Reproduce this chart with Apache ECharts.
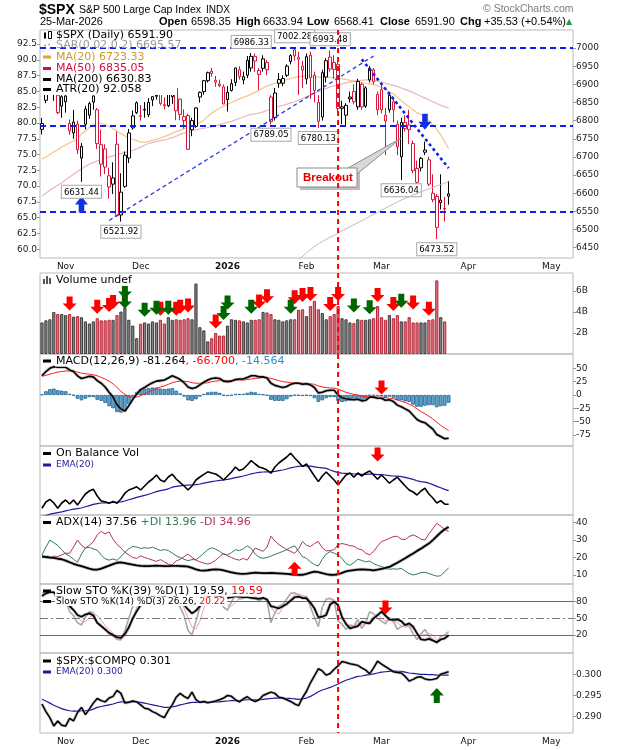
<!DOCTYPE html>
<html><head><meta charset="utf-8">
<script src="https://cdn.jsdelivr.net/npm/echarts@6/dist/echarts.min.js"></script>
<style>html,body{margin:0;padding:0;background:#fff}#c{width:620px;height:750px}</style>
</head><body><div id="c"></div>
<script>
// ---------------- DATA ----------------
const tradingDays = [
 ['2025-10',[24,27,28,29,30,31]],
 ['2025-11',[3,4,5,6,7,10,11,12,13,14,17,18,19,20,21,24,25,26,28]],
 ['2025-12',[1,2,3,4,5,8,9,10,11,12,15,16,17,18,19,22,23,24,26,29,30,31]],
 ['2026-01',[2,5,6,7,8,9,12,13,14,15,16,20,21,22,23,26,27,28,29,30]],
 ['2026-02',[2,3,4,5,6,9,10,11,12,13,17,18,19,20,23,24,25,26,27]],
 ['2026-03',[2,3,4,5,6,9,10,11,12,13,16,17,18,19,20,23,24,25,26,27,30,31]],
 ['2026-04',[1,2,6,7,8,9,10,13,14,15,16,17,20,21,22,23,24,27,28,29,30]],
 ['2026-05',[1,4,5,6,7,8]]
];
const monthTickLabels = {'2025-11':'Nov','2025-12':'Dec','2026-01':'2026','2026-02':'Feb','2026-03':'Mar','2026-04':'Apr','2026-05':'May'};

const openP = [6776,6856,6883,6905,6870,6866,6868,6792,6766,6790,
 6697,6790,6815,6868,6830,6680,6722,6648,6625,6735,
 6540,6619,6697,6780,6822,6812,6831,6816,6866,6867,
 6876,6844,6841,6866,6889,6859,6811,6814,6800,6784,
 6865,6880,6910,6936,6911,6901,6893,6878,6883,6905,
 6940,6912,6925,6945,6977,6938,6970,6960,6865,6808,
 6903,6903,6925,6963,6995,6975,6950,6915,6980,6925,
 6850,6810,6920,6975,6960,6955,6838,6815,6865,6880,
 6838,6900,6840,6912,6940,6830,6885,6799,6830,6852,
 6790,6700,6795,6788,6737,6668,6670,6719,6692,6582,
 6591,6574,6558,6598.35];
const closeP = [6792,6875,6891,6891,6822,6840,6852,6772,6796,6720,
 6729,6832,6847,6851,6737,6734,6672,6617,6642,6539,
 6603,6705,6766,6813,6849,6813,6829,6850,6857,6870,
 6847,6841,6887,6901,6827,6817,6800,6721,6775,6835,
 6878,6910,6932,6930,6906,6896,6846,6858,6902,6945,
 6921,6921,6966,6977,6964,6927,6944,6940,6797,6876,
 6913,6916,6950,6979,6978,6969,6939,6976,6918,6883,
 6798,6932,6965,6942,6941,6833,6834,6842,6860,6852,
 6908,6838,6890,6944,6907,6872,6830,6815,6870,6830,
 6728,6795,6778,6775,6662,6630,6696,6713,6625,6600,
 6506,6581,6556.37,6591.90];
const lowP = [6762,6848,6875,6855,6818,6808,6822,6761,6750,6708,
 6631.44,6776,6805,6830,6722,6646,6653,6585,6598,6535,
 6521.92,6615,6683,6775,6818,6800,6808,6810,6840,6858,
 6842,6831,6837,6846,6801,6801,6778,6720,6757,6780,
 6850,6871,6905,6921,6893,6892,6845,6825,6880,6895,
 6913,6900,6917,6935,6934,6885,6935,6925,6789.05,6800,
 6890,6895,6920,6955,6965,6871,6890,6900,6860,6850,
 6780.13,6800,6905,6935,6915,6820,6790,6785,6850,6845,
 6830,6830,6835,6905,6900,6815,6820,6705,6822,6795,
 6705,6636.04,6770,6735,6655,6625,6660,6705,6620,6575,
 6473.52,6555,6522,6568.41];
const highP = [6807,6880,6902,6920,6880,6870,6870,6803,6829,6800,
 6738,6841,6852,6869,6835,6775,6735,6670,6685,6770,
 6655,6715,6777,6828,6853,6843,6851,6862,6867,6895,
 6879,6864,6899,6904,6895,6861,6831,6819,6808,6837,
 6880,6912,6935,6945,6923,6913,6900,6895,6914,6946,
 6950,6935,6978,6986.33,6985,6945,6980,6967,6870,6890,
 6931,6925,6955,6983,7002.28,6990,6965,6985,6990,6935,
 6870,6940,6972,6993.48,6980,6965,6855,6848,6880,6900,
 6915,6905,6895,6950,6945,6880,6900,6835,6878,6865,
 6800,6808,6815,6830,6745,6690,6700,6742,6700,6652,
 6598,6652,6590,6633.94];
const ma20 = [6694,6700,6707,6714,6720,6727,6733,6739,6744,6752,
 6762,6772,6781,6788,6793,6792,6789,6784,6778,6771,
 6764,6758,6753,6748,6745,6741,6741,6743,6746,6749,
 6752,6756,6760,6765,6770,6773,6778,6782,6786,6790,
 6794,6802,6811,6821,6828,6834,6840,6845,6850,6855,
 6860,6864,6868,6873,6878,6884,6890,6895,6899,6903,
 6906,6909,6913,6916,6919,6921,6922,6923,6922,6921,
 6920,6920,6920,6919,6918,6917,6915,6913,6911,6909,
 6907,6905,6903,6901,6899,6896,6892,6886,6880,6874,
 6864,6855,6846,6838,6830,6822,6816,6810,6800,6788,
 6776,6760,6742,6723.33];
const ma50 = [6592,6600,6608,6615,6622,6629,6637,6645,6652,6660,
 6667,6674,6680,6685,6689,6693,6697,6700,6703,6706,
 6709,6712,6715,6718,6722,6727,6732,6737,6740,6743,
 6745,6747,6750,6753,6757,6762,6766,6769,6772,6775,
 6777,6779,6781,6783,6786,6789,6792,6795,6798,6802,
 6806,6810,6814,6817,6819,6821,6824,6828,6832,6836,
 6839,6842,6845,6849,6852,6856,6861,6866,6871,6876,
 6880,6884,6888,6893,6896,6898,6901,6904,6906,6908,
 6910,6911,6912,6912,6911,6909,6906,6903,6900,6897,
 6894,6890,6886,6882,6877,6872,6867,6862,6857,6852,
 6847,6842,6838,6835.05];
const ma200Start = 62;
const ma200Vals = [6395,6402,6409,6418,6426,6436,6445,6453,6461,6467,6473,6479,6484,6490,6496,6502,6508,6513,6519,6524,6530,6536,6542,6548,6554,6559,6565,6570,6576,6581,6586,6590,6595,6599,6604,6608,6612,6616,6620,6624,6628,6630.83];
const hLevels = [7000, 6786, 6550];
const upTrend = [[17,6525],[84,6978]];
const downTrend = [[81,6969],[103,6669]];
const highLabels = [[53,6986.33],[64,7002.28],[73,6993.48]];
const lowLabels = [[10,6631.44],[20,6521.92],[58,6789.05],[70,6780.13],[91,6636.04],[100,6473.52]];
const blueUp = [[10,6569]];
const blueDown = [[97,6797]];
const breakIdx = 75;
const breakoutTarget = [91, 6752];

const volume = [3.0,3.2,3.3,4.0,3.8,3.8,3.7,3.8,3.55,3.6,
 3.5,3.1,2.9,3.1,3.4,3.2,3.2,3.25,3.25,3.7,
 4.03,4.44,3.25,2.7,1.5,2.87,3.0,2.9,3.1,3.0,
 3.25,2.9,3.5,3.25,3.3,3.25,3.3,3.4,3.3,6.7,
 2.55,2.25,1.2,1.5,2.0,1.75,1.75,2.7,3.3,3.25,
 3.2,3.1,3.0,3.25,3.25,3.3,4.0,3.95,3.8,3.3,
 3.25,3.1,3.2,3.3,3.3,4.2,4.25,3.6,4.56,5.06,
 4.25,3.9,3.3,3.6,3.8,4.56,3.4,3.3,3.0,2.94,
 3.3,3.25,3.25,3.3,3.4,4.56,3.5,3.25,3.7,3.4,
 3.7,3.1,3.1,3.5,3.0,3.0,3.0,3.0,3.25,3.3,
 7.0,3.5,3.1,null];
const volRedArrows = [[7,4.8],[14,4.5],[17,4.65],[18,4.95],[30,4.3],[34,4.3],[35,4.5],[37,4.6],[44,3.1],[55,5.0],[57,5.5],[64,5.4],[66,5.6],[68,5.7],[73,4.75],[75,5.7],[85,5.6],[89,4.75],[94,4.9],[98,4.3],[100,8.1]];
const volGreenArrows = [[21,5.95],[21,5.0],[26,4.2],[29,4.4],[32,4.4],[39,8.0],[46,3.9],[47,4.9],[53,4.5],[63,4.5],[79,4.6],[83,4.45],[91,5.06]];

const macd = [36,44,50,53,52,52,52,47,44,36,
 31,33,35,34,27,22,15,5,-4,-18,
 -26,-30,-20,-8,2,10,14,19,23,26,
 27,28,32,36,33,29,23,15,12,14,
 19,24,28,31,32,31,26,25,26,29,
 30,30,33,36,36,34,34,32,22,18,
 16,14,16,20,22,22,20,21,19,14,
 4,5,8,9,9,0,-5,-7,-8,-9,
 -8,-11,-10,-4,-4,-6,-6,-10,-9,-12,
 -19,-22,-26,-30,-38,-46,-50,-52,-58,-64,
 -74,-78,-82,-81.264];
const macdSignal = [35,37,39,41,43,44,45,45,45,43,
 41,40,39,38,36,33,30,26,21,14,
 7,1,-3,-5,-4,-1,2,6,9,12,
 15,17,20,23,25,26,26,25,23,22,
 22,22,23,25,26,27,27,27,27,27,
 28,28,29,30,31,32,33,33,31,29,
 27,25,24,23,23,23,22,22,21,20,
 17,15,14,13,13,11,8,5,3,1,
 0,-2,-3,-3,-3,-4,-4,-5,-6,-7,
 -9,-12,-14,-17,-21,-26,-31,-35,-40,-45,
 -51,-57,-62,-66.7];
const macdHist = [1,7,11,12,9,8,7,2,-1,-7,
 -10,-7,-4,-4,-9,-11,-15,-21,-25,-32,
 -33,-31,-17,-3,6,11,12,13,14,14,
 12,11,12,13,8,3,-3,-10,-11,-8,
 -3,2,5,6,6,4,-1,-2,-1,2,
 2,2,4,6,5,2,1,-1,-9,-11,
 -11,-11,-8,-3,-1,-1,-2,-1,-2,-6,
 -13,-10,-6,-4,-4,-11,-13,-12,-11,-10,
 -8,-9,-7,-1,-1,-2,-2,-5,-3,-5,
 -10,-10,-12,-13,-18,-22,-22,-20,-19,-19,
 -23,-21,-20,-14.564];
const macdArrows = [[86,14]];

const obv = [3.4,6.5,7.8,6.0,3.4,6.0,7.5,5.5,7.5,5.0,
 7.8,10.5,12.0,12.9,9.5,7.0,6.6,5.9,6.7,5.9,
 8.0,10.9,12.5,13.2,14.1,12.5,14.5,16.5,18.0,20.0,
 17.5,16.6,19.0,20.4,18.0,16.2,14.5,12.5,14.5,17.5,
 19.0,20.3,21.6,21.0,20.5,19.2,17.5,19.5,21.5,24.0,
 22.2,23.0,25.0,27.2,25.5,24.0,23.4,22.5,20.9,24.0,
 26.0,27.5,29.0,30.9,28.5,26.5,24.2,25.5,22.5,19.5,
 16.7,19.5,21.5,19.5,17.5,15.0,17.5,20.0,21.0,18.9,
 21.0,19.5,21.0,22.0,20.0,17.9,20.0,18.0,15.9,17.5,
 18.9,16.7,14.5,12.5,11.5,10.0,12.0,13.4,10.5,8.5,
 6.0,7.2,5.4,5.4];
const obvEma = [-0.8,-0.3,0.4,0.8,1.2,1.6,2.1,2.5,2.9,3.2,
 3.5,4.1,4.7,5.3,5.7,6.0,6.1,6.2,6.3,6.4,
 6.6,7.0,7.6,8.2,8.8,9.3,9.8,10.4,11.0,11.7,
 12.2,12.6,13.1,13.9,14.3,14.6,14.8,14.9,15.0,15.2,
 15.5,15.9,16.3,16.7,17.0,17.3,17.5,17.8,18.2,18.7,
 19.1,19.5,20.0,20.6,21.0,21.3,21.5,21.6,21.6,21.8,
 22.2,22.5,23.0,23.6,24.0,24.3,24.5,24.6,24.4,24.1,
 23.8,23.6,23.3,22.5,21.8,21.2,20.9,20.8,20.7,20.5,
 20.4,20.3,20.3,20.4,20.4,20.2,20.2,20.0,19.7,19.5,
 19.4,19.2,18.8,18.3,17.8,17.1,16.7,16.4,15.9,15.2,
 14.3,13.6,12.8,12.2];
const obvArrows = [[85,30.3]];

const adx = [20.5,20.3,20.0,19.8,19.3,19.0,18.2,17.3,16.4,15.6,
 15.0,14.3,13.6,13.0,13.0,13.6,14.5,15.3,16.2,17.0,
 17.2,16.8,16.3,15.9,15.5,15.2,15.1,15.1,15.2,15.3,
 15.2,15.1,15.1,15.2,15.2,15.1,15.0,14.8,14.0,13.2,
 12.6,12.5,12.7,13.0,13.2,13.1,12.6,12.0,11.5,11.0,
 10.7,10.6,10.8,11.1,11.3,11.2,11.0,11.0,11.1,11.0,
 10.9,10.8,10.6,10.4,10.2,10.0,10.1,10.6,11.3,11.9,
 11.6,11.0,10.5,10.1,10.0,10.4,11.2,12.0,12.5,12.8,
 13.1,13.2,13.1,12.9,12.6,13.0,13.5,14.0,14.6,15.8,
 17.0,18.3,19.6,21.0,22.3,23.8,25.1,26.6,28.0,30.0,
 32.2,34.4,36.2,37.56];
const plusDI = [21.5,26,30,28.5,27,24.5,22,20.8,19,17.3,
 22,25.5,25.8,25,24.2,21.5,19.2,18.5,19.2,18.4,
 20.5,23,25,26.3,26,25.2,25.6,25.3,25.9,25,
 24,24.6,24,22.5,21,20,19,18.2,18.8,18.7,
 20.5,22.5,24.5,25.6,24.8,23.5,21.8,21.5,22.8,24.5,
 24,25,26.7,25.2,22,20.2,19.5,20,20.8,21.8,
 22.6,23.5,24.5,25.8,26.7,23.5,20.5,19.5,17.5,16,
 15.1,19,22,23.4,22.5,21.5,19.5,16.5,15.5,17,
 19,18.3,17.5,18,16.5,15.5,14.8,13.8,13.2,13.5,
 13.3,13.8,12.2,10.8,10,10.5,11.3,11.5,10.8,10,
 9.3,9.5,12.0,13.96];
const minusDI = [21.4,20.5,19.8,20.8,20.5,21.5,22.5,22.4,26,30,
 27,25.4,27,29,33,35,33.5,34.8,30.5,27.5,
 25.5,23,21.5,20,19.5,21,20,19.3,18.5,17.8,
 18.8,17.5,16.2,15.9,18,19,20.5,22,20,18.5,
 17.5,16.8,16.2,17,18.5,20.5,22.4,21,20,19,
 18.5,19.5,18.5,22,25.4,24.5,23.5,26,32.2,29.5,
 27.5,26,24.5,23.5,22.4,25,29.2,27,26.3,28,
 29.2,25.5,23.8,24,24.5,27.5,28,27.5,26.8,26.5,
 25,24.5,22.5,21.5,23.5,26.5,29.2,30,31,32,
 32.2,30.5,30.3,32,33,32,30.5,30,33.5,36.5,
 39.6,38,36,34.96];
const adxArrows = [[64,13.5]];

const stoK39 = [90,95,97,97,90,88,85,72,65,56,
 53,57,59,55,42,36,30,24,20,16,
 15,22,34,50,63,74,80,86,90,93,
 92,90,93,95,86,78,74,66,59,64,
 72,82,88,93,91,90,86,87,88,90,
 89,88,88,87,86,85,87,84,72,70,
 68,72,76,82,88,89,87,86,78,68,
 52,53,56,75,80,74,52,40,32,34,
 36,44,42,41,50,56,62,55,48,47,
 48,45,38,41,35,23,12,11,13,10,
 7,12,14,19.59];
const stoK14 = [95,98,98,96,80,82,80,62,55,42,
 38,52,62,60,42,38,30,22,18,12,
 11,28,50,72,88,90,92,95,96,98,
 92,90,96,97,80,70,55,28,20,45,
 70,88,95,96,90,86,70,65,80,92,
 85,86,95,97,90,80,86,82,42,60,
 72,75,85,95,96,92,85,90,70,52,
 35,70,85,86,82,45,40,30,38,36,
 48,32,42,62,58,50,45,40,52,45,
 30,35,38,36,22,12,22,30,18,12,
 5,18,20,26.26];
const stoD3 = [94,96,97,97,91,86,81,75,66,53,
 45,44,51,58,55,47,37,30,23,17,
 14,17,30,50,70,83,90,92,94,96,
 95,93,93,94,91,82,68,51,34,31,
 45,68,84,93,94,91,82,74,72,79,
 86,88,89,93,94,89,85,83,70,61,
 58,69,77,85,92,94,91,89,82,71,
 52,52,63,80,84,71,56,38,36,35,
 41,39,41,45,54,57,51,45,46,46,
 42,37,34,36,32,23,19,21,23,20,
 12,12,14,20.22];
const stoLevels = [80, 50, 20];
const stoArrows = [[87,69.5]];

const ratio = [0.2930,0.2912,0.2898,0.2878,0.2890,0.2880,0.2878,0.2896,0.2890,0.2910,
 0.2922,0.2905,0.2918,0.2932,0.2943,0.2938,0.2935,0.2944,0.2948,0.2962,
 0.2955,0.2932,0.2934,0.2937,0.2935,0.2928,0.2920,0.2918,0.2912,0.2908,
 0.2902,0.2898,0.2915,0.2928,0.2946,0.2955,0.2948,0.2943,0.2958,0.2940,
 0.2934,0.2936,0.2933,0.2935,0.2937,0.2940,0.2944,0.2950,0.2948,0.2940,
 0.2935,0.2942,0.2947,0.2940,0.2936,0.2940,0.2950,0.2954,0.2958,0.2955,
 0.2946,0.2944,0.2940,0.2936,0.2930,0.2926,0.2945,0.2960,0.2980,0.2996,
 0.3013,0.3008,0.2998,0.3002,0.3012,0.3020,0.3030,0.3028,0.3025,0.3023,
 0.3021,0.3015,0.3010,0.3001,0.3015,0.3031,0.3024,0.3018,0.3012,0.3006,
 0.3004,0.3003,0.2995,0.2984,0.2988,0.2993,0.2994,0.2989,0.2987,0.2988,
 0.2990,0.3000,0.3003,0.3006];
const ratioEma = [0.2941,0.2937,0.2932,0.2927,0.2923,0.2919,0.2916,0.2914,0.2913,0.2913,
 0.2914,0.2914,0.2915,0.2918,0.2922,0.2924,0.2926,0.2928,0.2930,0.2933,
 0.2935,0.2935,0.2935,0.2935,0.2935,0.2934,0.2932,0.2930,0.2928,0.2926,
 0.2924,0.2922,0.2922,0.2923,0.2925,0.2928,0.2930,0.2932,0.2934,0.2934,
 0.2934,0.2934,0.2934,0.2934,0.2935,0.2935,0.2936,0.2937,0.2938,0.2938,
 0.2938,0.2939,0.2940,0.2940,0.2940,0.2940,0.2941,0.2942,0.2943,0.2944,
 0.2944,0.2944,0.2943,0.2943,0.2942,0.2941,0.2942,0.2944,0.2948,0.2953,
 0.2959,0.2963,0.2966,0.2969,0.2973,0.2977,0.2982,0.2986,0.2989,0.2992,
 0.2995,0.2996,0.2998,0.2999,0.3001,0.3003,0.3005,0.3006,0.3007,0.3008,
 0.3007,0.3007,0.3005,0.3003,0.3002,0.3001,0.3000,0.3000,0.2999,0.2999,
 0.2998,0.2998,0.2998,0.2998];
const ratioArrows = [[100,0.2950]];

const priceTicks = [6450,6500,6550,6600,6650,6700,6750,6800,6850,6900,6950,7000];
const atrTicks = [60,62.5,65,67.5,70,72.5,75,77.5,80,82.5,85,87.5,90,92.5];
const volTicks = [2,4,6];
const macdTicks = [50,25,0,-25,-50,-75];
const adxTicks = [10,20,30,40];
const ratioTicks = [0.290,0.295,0.300];

// ---------------- BUILD ----------------
const F = "'DejaVu Sans', Verdana, sans-serif";
const FA = "'Liberation Sans', Arial, sans-serif";
const RED = '#d8163c';
const cats = [], labelAt = {};
tradingDays.forEach(([ym, days]) => {
  days.forEach((d, k) => {
    if (k === 0 && monthTickLabels[ym]) labelAt[cats.length] = monthTickLabels[ym];
    cats.push(ym + '-' + String(d).padStart(2, '0'));
  });
});
const nData = closeP.length;
const candleData = closeP.map((c, i) => {
  const prev = i > 0 ? closeP[i - 1] : openP[0];
  const col = c >= prev ? '#000000' : RED;
  return {value: [openP[i], c, lowP[i], highP[i]],
    itemStyle: {color: '#ffffff', color0: col, borderColor: col, borderColor0: col}};
});
const volData = volume.map((v, i) => {
  const prev = i > 0 ? closeP[i - 1] : openP[0];
  const up = closeP[i] >= prev;
  return {value: v, itemStyle: up ? {color: '#848484', borderColor: '#3e3e3e'} : {color: '#d77b84', borderColor: '#bb2437'}};
});
const ma200 = cats.slice(0, nData).map((_, i) => i >= ma200Start ? ma200Vals[i - ma200Start] : null);

const DOWN = 'path://M4,0L10,0L10,7L14,7L7,14L0,7L4,7Z';
const UP = 'path://M7,0L14,7L10,7L10,14L4,14L4,7L0,7Z';
function arrowItems(list, sym, color, size) {
  return list.map(([i, v]) => ({coord: [cats[i], v], symbol: sym, symbolSize: size || [14, 14], itemStyle: {color: color}, label: {show: false}}));
}
const labelStyle = {show: true, fontFamily: F, fontSize: 8.5, color: '#000', backgroundColor: '#fff', borderColor: '#a8a8a8', borderWidth: 1, padding: [2, 2, 1, 2], formatter: p => p.value.toFixed(2)};
const priceMarks = []
  .concat(highLabels.map(([i, v]) => ({coord: [cats[i], v], value: v, symbol: 'circle', symbolSize: 0.1, itemStyle: {color: 'rgba(0,0,0,0)'}, label: Object.assign({}, labelStyle, {position: 'top', distance: 5})})))
  .concat(lowLabels.map(([i, v]) => ({coord: [cats[i], v], value: v, symbol: 'circle', symbolSize: 0.1, itemStyle: {color: 'rgba(0,0,0,0)'}, label: Object.assign({}, labelStyle, {position: 'bottom', distance: 4})})))
  .concat(arrowItems(blueUp, UP, '#1030e8', [13, 16]))
  .concat(arrowItems(blueDown, DOWN, '#1030e8', [13, 16]));

const grids = [
  {top: 30, height: 228}, {top: 273, height: 81}, {top: 354, height: 92},
  {top: 446, height: 69}, {top: 515, height: 69}, {top: 584, height: 69}, {top: 653, height: 80}
].map(g => Object.assign({left: 40, right: 47, show: true, borderColor: '#b9b9b9', borderWidth: 1, backgroundColor: 'transparent'}, g));

function xAx(gi, showLabel) {
  return {type: 'category', gridIndex: gi, data: cats, boundaryGap: true,
    axisLine: {show: false}, axisTick: {show: false}, splitLine: {show: false},
    axisLabel: {show: showLabel, interval: (idx) => labelAt[idx] !== undefined,
      formatter: (v, idx) => labelAt[idx] === '2026' ? '{b|2026}' : (labelAt[idx] || ''),
      fontFamily: F, fontSize: 9, color: '#111', margin: 4,
      rich: {b: {fontFamily: F, fontSize: 9, fontWeight: 'bold', color: '#111'}}}};
}
function yAx(gi, min, max, ticks, fmt, pos) {
  return {type: 'value', gridIndex: gi, position: pos || 'right', min: min, max: max,
    axisLine: {show: false}, splitLine: {show: false},
    axisTick: {show: !!ticks, customValues: ticks || [], length: 3, lineStyle: {color: '#999'}},
    axisLabel: {show: !!ticks, customValues: ticks || [], formatter: fmt || (v => String(v)), fontFamily: F, fontSize: 9, color: '#222', margin: 3}};
}

const lineBase = {type: 'line', showSymbol: false, symbol: 'none', silent: true, animation: false, connectNulls: false};
function L(x, y, data, color, width, z, extra) {
  return Object.assign({}, lineBase, {xAxisIndex: x, yAxisIndex: y, data: data, z: z || 3, lineStyle: {color: color, width: width}}, extra || {});
}

const option = {
  animation: false,
  backgroundColor: '#ffffff',
  grid: grids,
  xAxis: [xAx(0, true), xAx(1, false), xAx(2, false), xAx(3, false), xAx(4, false), xAx(5, false), xAx(6, true)],
  yAxis: [
    yAx(0, 6421.6, 7049.6, priceTicks),
    yAx(0, 58.62, 94.72, atrTicks, v => v.toFixed(1), 'left'),
    yAx(1, 0, 7.7, volTicks, v => v + 'B'),
    yAx(2, -95.7, 76.9, macdTicks),
    yAx(3, 0, 34.5, null),
    yAx(4, 4.8, 44.4, adxTicks),
    yAx(5, -12.4, 111.9, stoLevels),
    yAx(6, 0.28616, 0.30502, ratioTicks, v => v.toFixed(3))
  ],
  series: [
    L(0, 0, ma20, 'rgba(236,178,100,0.75)', 1.2, 2),
    L(0, 0, ma50, 'rgba(225,150,160,0.7)', 1.2, 2),
    {type: 'candlestick', xAxisIndex: 0, yAxisIndex: 0, z: 3, barWidth: 3, silent: true, data: candleData,
      itemStyle: {borderWidth: 1},
      markPoint: {silent: true, animation: false, data: priceMarks}},
    L(0, 0, ma200, '#bdbdbd', 1, 5, {markLine: {silent: true, animation: false, symbol: ['none', 'none'], label: {show: false},
      data: hLevels.map(v => ({yAxis: v, lineStyle: {color: '#1020e8', width: 2, type: [6, 4]}}))
        .concat([[{coord: [cats[upTrend[0][0]], upTrend[0][1]], lineStyle: {color: '#2a3ae6', width: 1.3, type: [4, 3]}}, {coord: [cats[upTrend[1][0]], upTrend[1][1]]}],
                 [{coord: [cats[downTrend[0][0]], downTrend[0][1]], lineStyle: {color: '#1020e8', width: 2.6, type: [3, 3]}}, {coord: [cats[downTrend[1][0]], downTrend[1][1]]}]])}}),
    {type: 'bar', xAxisIndex: 1, yAxisIndex: 2, data: volData, barWidth: 3.2, silent: true, z: 3,
      itemStyle: {borderWidth: 1},
      markPoint: {silent: true, animation: false, data: arrowItems(volRedArrows, DOWN, '#ff0000').concat(arrowItems(volGreenArrows, DOWN, '#006400'))}},
    {type: 'bar', xAxisIndex: 2, yAxisIndex: 3, data: macdHist, barWidth: 3.6, silent: true, z: 2,
      itemStyle: {color: '#5ca6d2', borderColor: '#22618e', borderWidth: 0.8}},
    L(2, 3, macdSignal, '#ff1a1a', 1, 3),
    L(2, 3, macd, 'rgba(150,150,150,0.6)', 3.2, 3),
    L(2, 3, macd, '#000', 1.6, 4, {markPoint: {silent: true, animation: false, data: arrowItems(macdArrows, DOWN, '#ff0000')}}),
    L(3, 4, obvEma, '#1c1c9c', 1.2, 3),
    L(3, 4, obv, '#000', 1.6, 4, {markPoint: {silent: true, animation: false, data: arrowItems(obvArrows, DOWN, '#ff0000')}}),
    L(4, 5, plusDI, '#2f7d4e', 1, 3),
    L(4, 5, minusDI, '#b3315b', 1, 3),
    L(4, 5, adx, 'rgba(150,150,150,0.6)', 3.4, 3),
    L(4, 5, adx, '#000', 1.8, 4, {markPoint: {silent: true, animation: false, data: arrowItems(adxArrows, UP, '#ff0000')}}),
    L(5, 6, stoK14, '#a8a8a8', 1.6, 3, {markLine: {silent: true, animation: false, symbol: ['none', 'none'], label: {show: false},
      data: stoLevels.map(v => ({yAxis: v, lineStyle: v === 50 ? {color: '#777', width: 1, type: [8, 3, 2, 3]} : {color: '#6a6a6a', width: 1, type: 'solid'}}))}}),
    L(5, 6, stoD3, '#f2a0a0', 1, 3),
    L(5, 6, stoK39, 'rgba(150,150,150,0.55)', 3.2, 4),
    L(5, 6, stoK39, '#000', 1.7, 5, {markPoint: {silent: true, animation: false, data: arrowItems(stoArrows, DOWN, '#ff0000')}}),
    L(6, 7, ratioEma, '#1c1c9c', 1.2, 3),
    L(6, 7, ratio, 'rgba(150,150,150,0.55)', 3.0, 3),
    L(6, 7, ratio, '#000', 1.5, 4, {markPoint: {silent: true, animation: false, data: arrowItems(ratioArrows, UP, '#006400', [14, 15])}})
  ]
};

const chart = echarts.init(document.getElementById('c'), null, {renderer: 'canvas'});
chart.setOption(option);

// ---------------- OVERLAYS (text, callout, breakout line) ----------------
const els = [];
function T(x, y, text, font, fill, extra) {
  els.push(Object.assign({type: 'text', z: 20, silent: true, style: Object.assign({x: x, y: y, text: text, font: font, fill: fill || '#000', verticalAlign: 'middle', align: 'left'}, extra || {})}));
}
function R(x, y, w, h, fill, stroke, z) {
  els.push({type: 'rect', z: z || 20, silent: true, shape: {x: x, y: y, width: w, height: h}, style: {fill: fill, stroke: stroke || null, lineWidth: 1}});
}
const last = nData - 1;
const chg = closeP[last] - closeP[last - 1];
// header
T(39, 10, '$SPX', 'bold 14px ' + FA);
T(79, 10.5, 'S&P 500 Large Cap Index', '10.5px ' + FA);
T(206, 10.5, 'INDX', '10px ' + FA);
T(483, 9, '\u00A9 StockCharts.com', '10.5px ' + FA, '#7a7a7a');
T(40, 22, '25-Mar-2026', '11px ' + FA);
const hdr = [['Open', 159, openP[last].toFixed(2), 191], ['High', 236, highP[last].toFixed(2), 263], ['Low', 307, lowP[last].toFixed(2), 334],
  ['Close', 380, closeP[last].toFixed(2), 415], ['Chg', 460, '+' + chg.toFixed(2) + ' (+' + (chg / closeP[last - 1] * 100).toFixed(2) + '%)', 484]];
hdr.forEach(([k, kx, v, vx]) => { T(kx, 22, k, 'bold 11px ' + FA); T(vx, 22, v, '11px ' + FA); });
T(566, 21.5, '\u25B2', '8px ' + F, '#2c9a3a');

// legend helper
function leg(y, parts, iconColor, size, bg) {
  const fs = size || 11;
  if (iconColor) R(43, y - 1.5, 8, 3, iconColor, null, 21);
  const rich = {};
  let txt = '';
  parts.forEach((p, k) => { rich['p' + k] = {fill: p[1], font: fs + 'px ' + F}; txt += '{p' + k + '|' + p[0] + '}'; });
  els.push({type: 'text', z: 20, silent: true, style: {x: 55, y: y, text: txt, rich: rich, font: fs + 'px ' + F, verticalAlign: 'middle', align: 'left',
    backgroundColor: bg === false ? null : '#ffffff', padding: [0, 2, 0, 1]}});
}
// main legend
R(41, 31, 136, 64, '#ffffff', null, 4);
R(44, 32.5, 2, 6, '#000', null, 21); R(48.5, 31.5, 3, 7, '#fff', '#000', 21);
leg(35.5, [['$SPX (Daily) 6591.90', '#000']], null, 11, false);
els.push({type: 'circle', z: 21, silent: true, shape: {cx: 45, cy: 45.5, r: 1}, style: {fill: '#aaa'}});
els.push({type: 'circle', z: 21, silent: true, shape: {cx: 49, cy: 44.5, r: 1}, style: {fill: '#aaa'}});
leg(45.5, [['SAR(0.02,0.2) 6695.57', '#9a9a9a']], null, 11, false);
leg(57, [['MA(20) 6723.33', '#d09a2c']], '#d9a441', 11, false);
leg(68.5, [['MA(50) 6835.05', '#cc1040']], '#cc1040', 11, false);
leg(79.5, [['MA(200) 6630.83', '#000']], '#000', 11, false);
leg(89.5, [['ATR(20) 92.058', '#000']], '#000', 11, false);
// volume legend
R(43, 279, 2, 5, '#555', null, 21); R(46, 276, 2, 8, '#555', null, 21); R(49, 278, 2, 6, '#555', null, 21);
leg(280.5, [['Volume undef', '#000']], null, 11);
leg(361, [['MACD(12,26,9) -81.264', '#000'], [', -66.700', '#ff0000'], [', -14.564', '#2f8fc4']], '#000', 11);
leg(453.5, [['On Balance Vol', '#000']], '#000', 11);
leg(465, [['EMA(20)', '#1c1c9c']], '#1c1c9c', 9);
leg(522.5, [['ADX(14) 37.56 ', '#000'], ['+DI 13.96 ', '#2f7d4e'], ['-DI 34.96', '#b3315b']], '#000', 11);
leg(591, [['Slow STO %K(39) %D(1) 19.59, ', '#000'], ['19.59', '#ff0000']], '#000', 11);
leg(601.5, [['Slow STO %K(14) %D(3) 26.26, ', '#000'], ['20.22', '#ff0000']], '#000', 9);
leg(661, [['$SPX:$COMPQ 0.301', '#000']], '#000', 11);
leg(672, [['EMA(20) 0.300', '#1c1c9c']], '#1c1c9c', 9);

// breakout vertical line through all panels
const xb = chart.convertToPixel({xAxisIndex: 0}, cats[breakIdx]);
els.push({type: 'line', z: 25, silent: true, shape: {x1: xb, y1: 30, x2: xb, y2: 733}, style: {stroke: '#ff0000', lineWidth: 2, lineDash: [5, 4]}});

// breakout callout
const tgt = chart.convertToPixel({seriesIndex: 2}, [cats[breakoutTarget[0]], breakoutTarget[1]]);
R(300, 171, 60, 19, '#bdbdbd', null, 22);
els.push({type: 'polygon', z: 22, silent: true, shape: {points: [[348, 168], [357, 174], tgt]}, style: {fill: '#d8d8d8', stroke: '#8a8a8a', lineWidth: 1}});
R(297, 168, 60, 19, '#ffffff', '#8a8a8a', 23);
T(303, 177.5, 'Breakout', 'bold 11.5px ' + FA, '#e00000', {});
els[els.length - 1].z = 24;

chart.setOption({graphic: {elements: els}});
</script>
</body></html>
